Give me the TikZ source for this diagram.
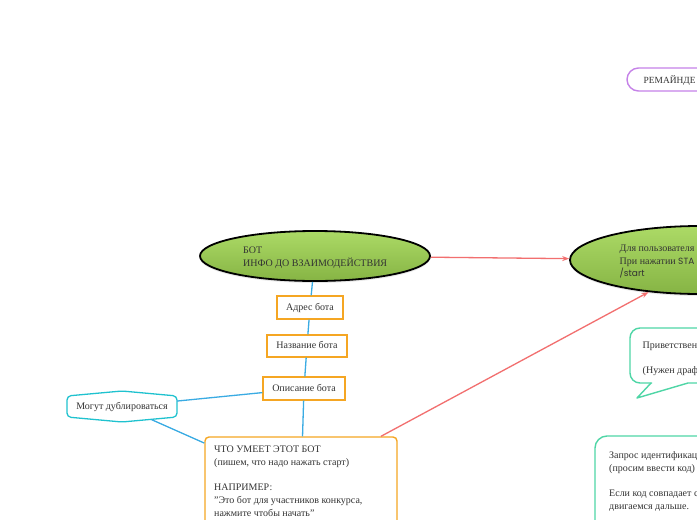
\documentclass[tikz,border=0pt]{standalone}
\usepackage{fontspec}
\setmainfont{Liberation Serif}
\newfontfamily\popfont{Poppins}
\usetikzlibrary{arrows.meta,shadows,shapes.geometric}
\definecolor{txtc}{HTML}{333333}
\definecolor{orangeb}{HTML}{F5A623}
\definecolor{bluel}{HTML}{3AABE3}
\definecolor{redl}{HTML}{F26F6F}
\definecolor{tealb}{HTML}{1FC2CF}
\definecolor{mintb}{HTML}{4FD6A6}
\definecolor{purpb}{HTML}{C582E8}
\definecolor{gtop}{HTML}{ACDA66}
\definecolor{gbot}{HTML}{86B444}
\newcommand\mylines[1]{\begin{tabular}[t]{@{}l@{}}#1\end{tabular}}
\tikzset{
  txt/.style={inner sep=0pt, anchor=base west, text=txtc},
  ellnode/.style={ellipse, draw=black, line width=1.8pt, top color=gtop, bottom color=gbot,
    drop shadow={shadow xshift=0pt, shadow yshift=-2pt, opacity=0.18}},
  obox/.style={draw=orangeb, line width=1.4pt, fill=white, inner sep=0pt, text=txtc,
    text height=6.8pt, text depth=1.6pt},
  bconn/.style={draw=bluel, line width=1.3pt},
  rconn/.style={draw=redl, line width=1.3pt, -{Stealth[length=7pt,width=5pt]}},
}
\begin{document}
\begin{tikzpicture}[x=1pt,y=-1pt, font=\fontsize{10}{12.7}\selectfont]
\useasboundingbox (0,0) rectangle (697,520);
\fill[white] (0,0) rectangle (697,520);
\clip (0,0) rectangle (697,520);

% ellipses
\node[ellnode, minimum width=230pt, minimum height=50pt, inner sep=0pt] (e1) at (315,256) {};
\node[txt] (e1t) at (243,253.5) {\mylines{БОТ\\ИНФО ДО ВЗАИМОДЕЙСТВИЯ}};

\node[ellnode, minimum width=260pt, minimum height=68pt, inner sep=0pt] (e2) at (700,260) {};
\node[txt] (e2t) at (619.5,251.5) {\mylines{Для пользователя\\При нажатии {\popfont\fontsize{9}{12.7}\selectfont STA}\\{\popfont\fontsize{9}{12.7}\selectfont /start}}};

% orange boxes
\node[obox, minimum width=66pt, minimum height=23pt] (adr) at (310,307.5) {Адрес бота};
\node[obox, minimum width=80pt, minimum height=22pt] (nam) at (307,346) {Название бота};
\node[obox, minimum width=82pt, minimum height=23pt] (opi) at (304,388.5) {Описание бота};

% Могут дублироваться
\node[inner sep=0pt, minimum width=110pt, minimum height=26pt, text=txtc,
  text height=6.8pt, text depth=1.6pt] (mog) at (122,406.5) {Могут дублироваться};
\draw[tealb, line width=1.3pt, rounded corners=4pt]
  (67,396) -- (122,391) -- (177,396) -- (177,417) -- (122,422) -- (67,417) -- cycle;

% ЧТО УМЕЕТ box
\node[draw=orangeb, line width=1.4pt, rounded corners=4pt, minimum width=192pt,
  minimum height=98pt, inner sep=0pt] (what) at (301,486) {};
\node[txt] (whatt) at (214,452.5) {\mylines{ЧТО УМЕЕТ ЭТОТ БОТ\\(пишем, что надо нажать старт)\\ \\НАПРИМЕР:\\"Это бот для участников конкурса,\\нажмите чтобы начать"}};

% connectors
\draw[bconn] (e1) -- (adr);
\draw[bconn] (adr) -- (nam);
\draw[bconn] (nam) -- (opi);
\draw[bconn] (opi) -- (what);
\draw[bconn] (opi) -- (mog);
\draw[bconn] (mog) -- (what);
\draw[rconn] (e1) -- (e2);
\draw[rconn] ([xshift=80pt]what.north) -- (e2.212);

% reminder pill
\node[draw=purpb, line width=1.4pt, rounded corners=11.5pt, minimum width=140pt,
  minimum height=23pt, inner sep=0pt] (rem) at (697,79.5) {};
\node[txt, font=\fontsize{9.4}{12}\selectfont] (remt) at (643.5,83.5) {РЕМАЙНДЕ};

% speech bubble
\draw[mintb, line width=1.4pt, rounded corners=10pt]
  (720,328) -- (630,328) -- (630,383) -- (652,383);
\draw[mintb, line width=1.4pt, line join=round]
  (651,383) -- (637,398) -- (688,383) -- (720,383);
\node[txt] (bubt) at (642.5,348.5) {\mylines{Приветствен\\ \\(Нужен драф}};

% request box
\node[draw=mintb, line width=1.4pt, rounded corners=12pt, minimum width=140pt,
  minimum height=124pt, inner sep=0pt] (req) at (665,498) {};
\node[txt] (reqt) at (609,458.5) {\mylines{Запрос идентификац\\(просим ввести код)\\ \\Если код совпадает с\\двигаемся дальше.}};
\end{tikzpicture}
\end{document}
